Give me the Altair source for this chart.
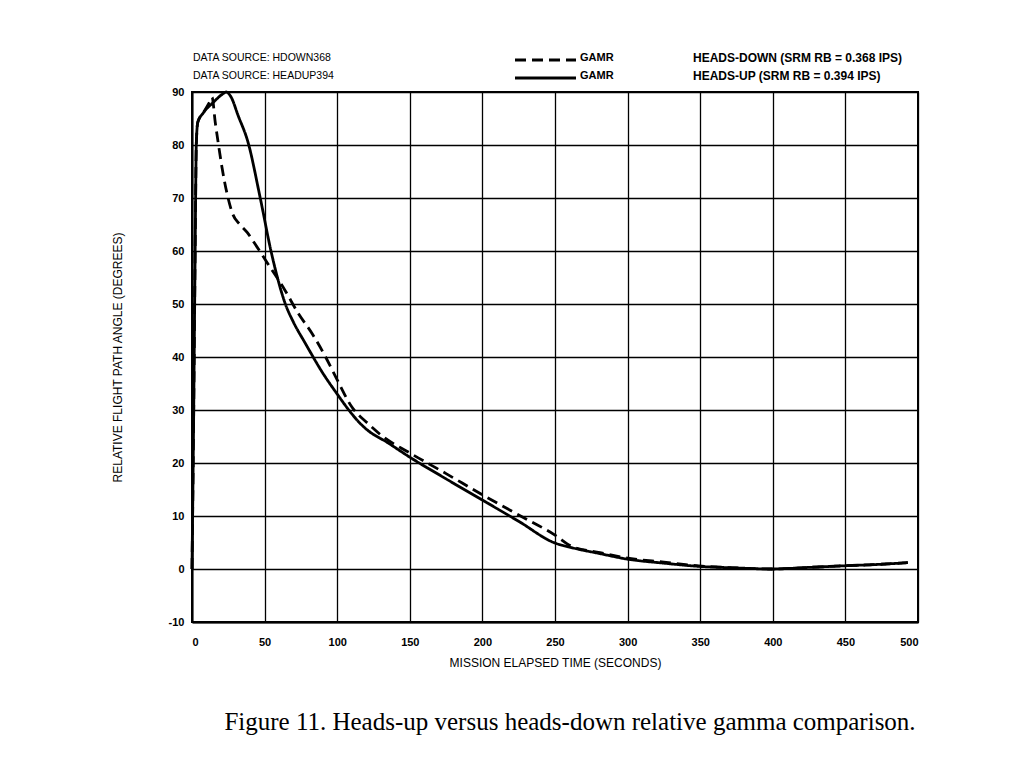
import altair as alt
import pandas as pd

# ---- data ----
up_t = [0, 1, 2, 3, 4, 7.6, 14.5, 21, 23.5, 27, 31.7, 38.6, 47, 54.4, 64.3, 70, 78, 90, 100, 108, 114, 120,
        135, 150, 175, 200, 225, 250, 262, 281, 299, 325, 349, 375, 399, 425, 449, 475, 493]
up_v = [0, 25, 55, 80.5, 84.3, 86, 88, 89.6, 90, 89, 85.6, 80.5, 70, 60, 50, 46.5, 42.6, 37, 33, 30, 28, 26.4,
        23.8, 21.1, 17, 13, 9, 4.9, 4.0, 2.9, 1.9, 1.1, 0.5, 0.2, 0.0, 0.3, 0.6, 0.9, 1.2]

down_t = [0, 1, 2, 3, 4, 7.6, 12.5, 13.8, 16, 18, 20.7, 24, 28, 33, 38, 43, 52, 64, 73, 83, 92, 100, 110, 121, 130,
          150, 175, 200, 225, 250, 262, 281, 299, 325, 349, 375, 399, 425, 449, 475, 493]
down_v = [0, 25, 55, 80.5, 84.3, 86, 88.3, 89, 84.3, 80.5, 75.7, 71, 67, 65, 63.5, 61.5, 57.7, 52.6, 48.3, 44.3, 40, 35.7, 30.6, 27.5, 25.3,
          21.9, 18, 14, 10.2, 6.4, 4.2, 3.1, 2.1, 1.3, 0.6, 0.2, 0.0, 0.3, 0.6, 0.9, 1.2]

x_ticks = list(range(0, 501, 50))
y_ticks = list(range(-10, 91, 10))

header_left = ["DATA SOURCE:  HDOWN368", "DATA SOURCE:  HEADUP394"]
legend_name = ["GAMR", "GAMR"]
header_right = ["HEADS-DOWN (SRM RB = 0.368 IPS)", "HEADS-UP (SRM RB = 0.394 IPS)"]
caption = "Figure 11.  Heads-up versus heads-down relative gamma comparison."
x_title = "MISSION ELAPSED TIME (SECONDS)"
y_title = "RELATIVE FLIGHT PATH ANGLE (DEGREES)"

SANS = "Liberation Sans, Arial, sans-serif"
SERIF = "Liberation Serif, Times New Roman, serif"

df = pd.concat([
    pd.DataFrame({"t": down_t, "v": down_v, "series": "HEADS-DOWN", "o": range(len(down_t))}),
    pd.DataFrame({"t": up_t, "v": up_v, "series": "HEADS-UP", "o": range(len(up_t))}),
])

W, H = 726, 530

lines = alt.Chart(df).mark_line(color="black", strokeWidth=2.8, strokeCap="butt",
                                interpolate="monotone").encode(
    x=alt.X("t:Q", scale=alt.Scale(domain=[0, 500], nice=False, zero=False),
            axis=alt.Axis(values=x_ticks, title=x_title, grid=True, ticks=False,
                          gridColor="black", gridWidth=1.3,
                          labelPadding=14, titlePadding=10, labelExpr="'' + datum.value")),
    y=alt.Y("v:Q", scale=alt.Scale(domain=[-10, 90], nice=False, zero=False),
            axis=alt.Axis(values=y_ticks, title=y_title, grid=True, ticks=False,
                          gridColor="black", gridWidth=1.3,
                          labelPadding=8, titlePadding=44, labelExpr="'' + datum.value")),
    order="o:Q",
    detail="series:N",
    strokeDash=alt.StrokeDash("series:N",
                              scale=alt.Scale(domain=["HEADS-DOWN", "HEADS-UP"], range=[[11, 6], [1, 0]]),
                              legend=None),
)

def txt(s, x, y, size=11, align="left", font=SANS, weight="normal", color="black"):
    return alt.Chart(pd.DataFrame({"s": [s]})).mark_text(
        align=align, baseline="middle", fontSize=size, font=font, fontWeight=weight, color=color
    ).encode(text="s:N", x=alt.value(x), y=alt.value(y))

def rule(x1, x2, y, dash):
    return alt.Chart(pd.DataFrame({"a": [0]})).mark_rule(
        color="black", strokeWidth=2.8, strokeDash=dash
    ).encode(x=alt.value(x1), x2=alt.value(x2), y=alt.value(y))

layers = [
    lines,
    txt(header_left[0], 1, -34, size=10.5),
    txt(header_left[1], 1, -16, size=10.5),
    rule(323, 384, -32, [11, 6]),
    rule(323, 384, -14, [1, 0]),
    txt(legend_name[0], 388, -34, size=11, weight="bold"),
    txt(legend_name[1], 388, -16, size=11, weight="bold"),
    txt(header_right[0], 501, -34, size=12, weight="bold"),
    txt(header_right[1], 501, -16, size=12, weight="bold"),
    txt(caption, 378, 630, size=25, align="center", font=SERIF),
]

chart = alt.layer(*layers).properties(
    width=W, height=H,
    background="white",
    autosize=alt.AutoSizeParams(type="none"),
    padding={"left": 184, "top": 84, "right": 100, "bottom": 128},
).configure_view(
    stroke="black", strokeWidth=2
).configure_axis(
    domainColor="black", domainWidth=2,
    gridColor="black", gridWidth=1.3, gridOpacity=1,
    labelColor="black", labelFont=SANS, labelFontSize=11, labelFontWeight="bold",
    titleColor="black", titleFont=SANS, titleFontSize=12, titleFontWeight="normal",
)

chart.save("out.html", embed_options={"renderer": "svg", "actions": False})
